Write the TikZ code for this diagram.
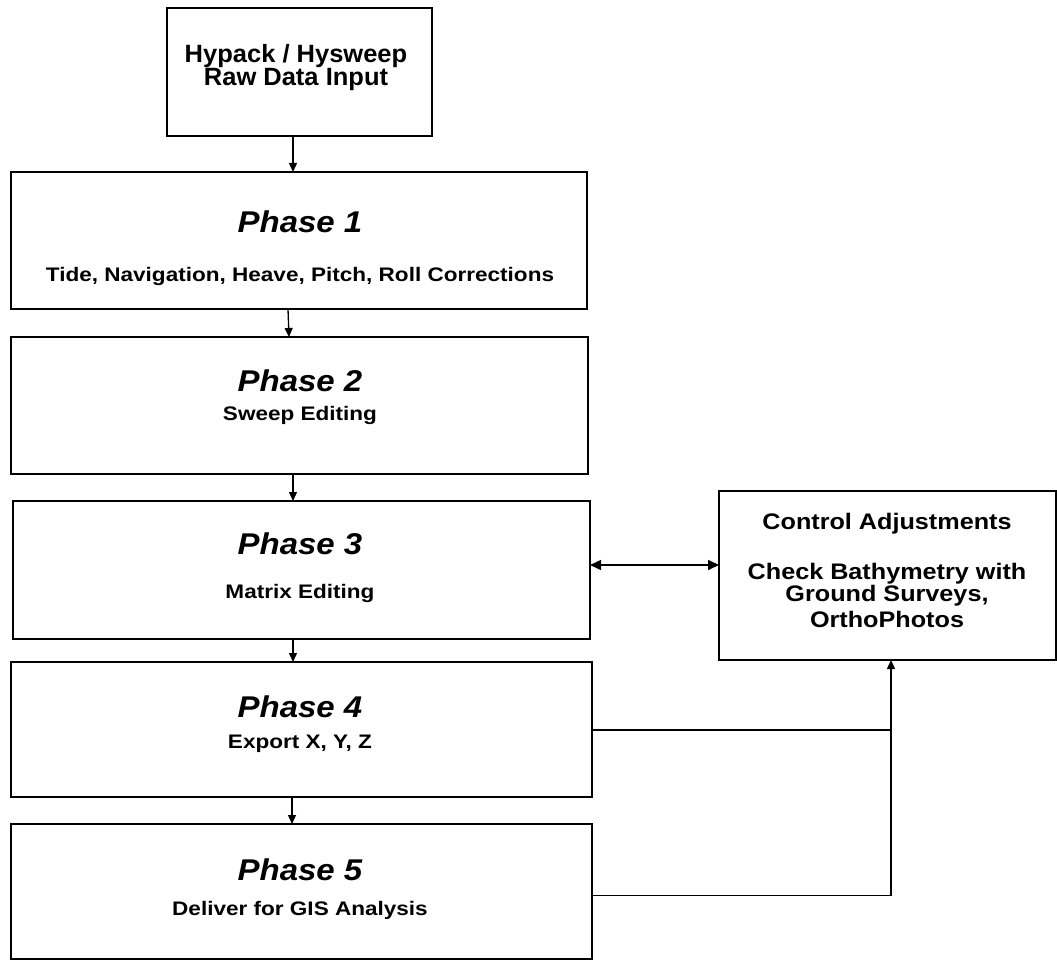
\documentclass[tikz,border=0pt]{standalone}
\usepackage{fontspec}
\setmainfont{Liberation Sans}
\newfontfamily\fhy{Liberation Sans}[FakeStretch=1.02]
\newfontfamily\fti{Liberation Sans}[FakeStretch=1.1]
\newfontfamily\fsub{Liberation Sans}[FakeStretch=1.15]
\newfontfamily\fctl{Liberation Sans}[FakeStretch=1.12]
\usetikzlibrary{arrows.meta}
\begin{document}
\begin{tikzpicture}[x=1pt,y=-1pt,
  box/.style={draw=black,line width=1.2pt,inner sep=0pt,outer sep=0pt,fill=white},
  txt/.style={anchor=base,inner sep=0pt,outer sep=0pt},
  hy/.style={txt,font=\fhy\bfseries\fontsize{25}{25}\selectfont},
  ttl/.style={txt,font=\fti\bfseries\itshape\fontsize{30}{30}\selectfont},
  sub/.style={txt,font=\fsub\bfseries\fontsize{19.6}{20}\selectfont},
  ctl/.style={txt,font=\fctl\bfseries\fontsize{22.5}{23}\selectfont},
  conn/.style={line width=1.3pt,draw=black},
  arr/.style={conn,-{Triangle[length=9pt,width=8pt]}},
  darr/.style={line width=1.6pt,draw=black,{Triangle[length=11pt,width=10pt]}-{Triangle[length=11pt,width=10pt]}}]
\useasboundingbox (0,0) rectangle (1057,960);
\fill[white] (0,0) rectangle (1057,960);
% boxes
\node[box,minimum width=265pt,minimum height=128pt] (top) at (299.5,72) {};
\node[box,minimum width=576pt,minimum height=137pt] (p1) at (299,240.5) {};
\node[box,minimum width=577pt,minimum height=137pt] (p2) at (299.5,405.5) {};
\node[box,minimum width=577pt,minimum height=138pt] (p3) at (301.5,570) {};
\node[box,minimum width=581pt,minimum height=135pt] (p4) at (301.5,729.5) {};
\node[box,minimum width=581pt,minimum height=135pt] (p5) at (301.5,891.5) {};
\node[box,minimum width=337pt,minimum height=169pt] (ctl) at (887.5,575.5) {};
% texts
\node[hy] (t1) at (296,63) {Hypack / Hysweep};
\node[hy] (t2) at (296,86) {Raw Data Input};
\node[ttl] (p1t) at (300,232.5) {Phase 1};
\node[sub] (p1s) at (300,281) {Tide, Navigation, Heave, Pitch, Roll Corrections};
\node[ttl] (p2t) at (300,391.5) {Phase 2};
\node[sub] (p2s) at (300,420) {Sweep Editing};
\node[ttl] (p3t) at (300,554.5) {Phase 3};
\node[sub] (p3s) at (300,598) {Matrix Editing};
\node[ttl] (p4t) at (300,717.5) {Phase 4};
\node[sub] (p4s) at (300,748) {Export X, Y, Z};
\node[ttl] (p5t) at (300,880.5) {Phase 5};
\node[sub] (p5s) at (300,915) {Deliver for GIS Analysis};
\node[ctl] (c1) at (887,529) {Control Adjustments};
\node[ctl] (c2) at (887,579) {Check Bathymetry with};
\node[ctl] (c3) at (887,601) {Ground Surveys,};
\node[ctl] (c4) at (887,627) {OrthoPhotos};
% connectors
\draw[arr] ([xshift=-6.5pt]top.south) -- ([xshift=-6pt]p1.north);
\draw[arr] ([xshift=-11pt]p1.south) -- ([xshift=-10.5pt]p2.north);
\draw[arr] ([xshift=-6.5pt]p2.south) -- ([xshift=-8.5pt]p3.north);
\draw[arr] ([xshift=-8.5pt]p3.south) -- ([xshift=-8.5pt]p4.north);
\draw[arr] ([xshift=-9.5pt]p4.south) -- ([xshift=-9.5pt]p5.north);
\draw[darr] ([yshift=5pt]p3.east) -- ([yshift=5pt]p3.east -| ctl.west);
\coordinate (j4) at (891,730);
\coordinate (j5) at (891,895.5);
\draw[conn] (p4.east |- j4) -- (j4);
\draw[arr] (p5.east |- j5) -- (j5) -- (j5 |- ctl.south);
\end{tikzpicture}
\end{document}
